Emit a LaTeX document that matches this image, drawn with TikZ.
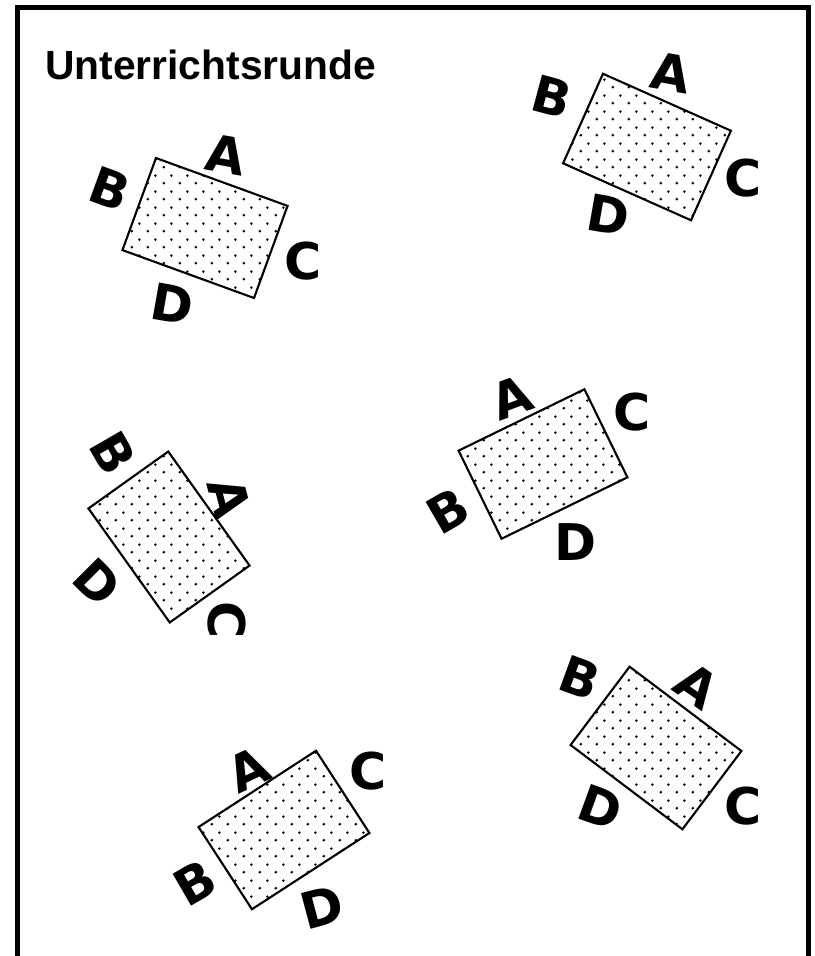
\documentclass[tikz,border=0pt]{standalone}
\usepackage{fontspec}
\setmainfont{Liberation Sans}
\newfontfamily\seatfont{DejaVu Sans}
\usetikzlibrary{patterns}
\pgfdeclarepatternformonly{tabledots}{\pgfpointorigin}{\pgfpoint{11.4pt}{11.4pt}}{\pgfpoint{11.4pt}{11.4pt}}{%
  \pgfpathcircle{\pgfpoint{2.85pt}{2.85pt}}{1.1pt}%
  \pgfpathcircle{\pgfpoint{8.55pt}{8.55pt}}{1.1pt}%
  \pgfusepath{fill}}
\tikzset{
  desk/.style={draw, line width=1.5pt, pattern=tabledots, inner sep=0pt,
    minimum width=3.5cm, minimum height=2.45cm},
  seat/.style={font=\seatfont\fontsize{36}{36}\selectfont\bfseries, inner sep=0pt}
}

\begin{document}
\begin{tikzpicture}[x=0.025cm, y=-0.025cm]
  \useasboundingbox (0,0) rectangle (815,956);
  \draw[line width=3.6pt] (17.5,956) -- (17.5,7.5) -- (808.5,7.5) -- (808.5,956);
  \node[anchor=west, inner sep=0pt] (title) at (45,65)
    {\fontsize{29}{30}\selectfont\bfseries Unterrichtsrunde};

  % table 1
  \node[desk, rotate=-20] (t1) at (205,228) {};
  \node[seat, rotate=-10] (t1a) at (226,155) {A};
  \node[seat, rotate=-20] (t1b) at (110,189) {B};
  \node[seat] (t1c) at (303,261) {C};
  \node[seat, rotate=-10] (t1d) at (172,304) {D};

  % table 2
  \node[desk, rotate=-24] (t2) at (647,147) {};
  \node[seat, rotate=-10] (t2a) at (671,73) {A};
  \node[seat, rotate=-15] (t2b) at (552,97) {B};
  \node[seat] (t2c) at (743,178) {C};
  \node[seat, rotate=-10] (t2d) at (608,215) {D};

  % table 3
  \node[desk, rotate=-54.5] (t3) at (169,537) {};
  \node[seat, rotate=-75] (t3a) at (229,498) {A};
  \node[seat, rotate=-60] (t3b) at (113,453) {B};
  \node[seat, rotate=-90] (t3c) at (227,620) {C};
  \node[seat, rotate=-45] (t3d) at (97,582) {D};

  % table 4
  \node[desk, rotate=26] (t4) at (543,464) {};
  \node[seat, rotate=20] (t4a) at (512,397) {A};
  \node[seat, rotate=30] (t4b) at (448,511) {B};
  \node[seat] (t4c) at (632,412) {C};
  \node[seat] (t4d) at (576,542) {D};

  % table 5
  \node[desk, rotate=33] (t5) at (284,830) {};
  \node[seat, rotate=25] (t5a) at (248,769) {A};
  \node[seat, rotate=30] (t5b) at (195,883) {B};
  \node[seat] (t5c) at (368,771) {C};
  \node[seat, rotate=15] (t5d) at (322,907) {D};

  % table 6
  \node[desk, rotate=-37] (t6) at (656,748) {};
  \node[seat, rotate=-35] (t6a) at (697,686) {A};
  \node[seat, rotate=-20] (t6b) at (580,678) {B};
  \node[seat] (t6c) at (743,806) {C};
  \node[seat, rotate=-20] (t6d) at (601,807) {D};
\end{tikzpicture}
\end{document}
